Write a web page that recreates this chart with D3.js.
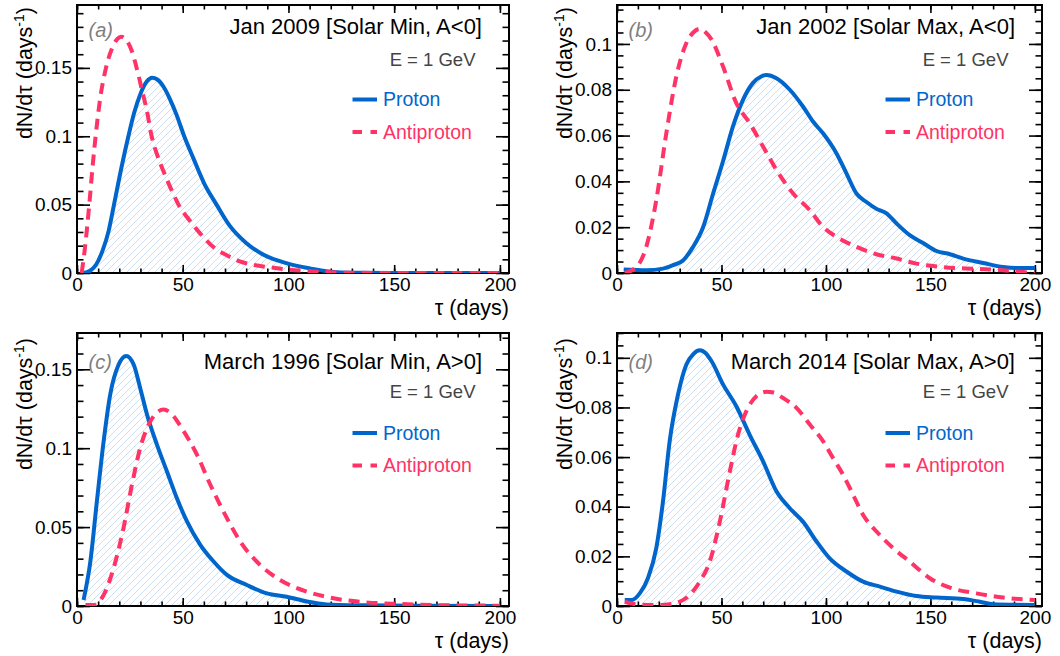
<!DOCTYPE html>
<html><head><meta charset="utf-8">
<script src="https://cdn.jsdelivr.net/npm/d3@7"></script>
<style>
body{margin:0;background:#fff}
svg{display:block}
text{font-family:"Liberation Sans",Arial,Helvetica,sans-serif}
</style>
</head><body>
<svg id="chart" width="1060" height="656"></svg>
<script>
// ---------- data ----------
const panelLabels = ["(a)", "(b)", "(c)", "(d)"];
const panelTitles = ["Jan 2009 [Solar Min, A<0]", "Jan 2002 [Solar Max, A<0]",
                     "March 1996 [Solar Min, A>0]", "March 2014 [Solar Max, A>0]"];
const energyLabel = "E = 1 GeV";
const seriesNames = ["Proton", "Antiproton"];
const xTitle = "τ (days)";
const xTicks = [0, 50, 100, 150, 200];
const yTicksA = [0, 0.05, 0.1, 0.15];
const yTicksB = [0, 0.02, 0.04, 0.06, 0.08, 0.1];
const yTicksC = [0, 0.05, 0.1, 0.15];
const yTicksD = [0, 0.02, 0.04, 0.06, 0.08, 0.1];
const yMaxes = [0.196, 0.117, 0.173, 0.110];
const xMaxes = [204.3, 203.4, 204.3, 203.4];

const protonA = [[3,0],[6,0.0015],[9,0.006],[12,0.016],[15,0.031],[17.5,0.05],[21,0.077],[24.3,0.1],[27,0.117],[30,0.131],[33,0.140],[35.5,0.1428],[38,0.1415],[41,0.136],[44,0.127],[47,0.116],[50.7,0.1],[55,0.084],[60,0.066],[66,0.05],[72,0.035],[80,0.022],[88,0.0135],[99,0.0072],[110,0.0034],[120,0.001],[130,0.0002],[150,0],[200,0]];
const antiprotonA = [[2.2,0],[3.5,0.015],[5.8,0.05],[7.5,0.08],[8.8,0.1],[11,0.128],[13.7,0.15],[16.5,0.164],[19,0.171],[21,0.1728],[23.5,0.17],[26,0.162],[28.2,0.15],[31,0.132],[33,0.119],[35.3,0.1],[38,0.086],[41,0.074],[45.5,0.058],[48.7,0.048],[52,0.041],[58.2,0.029],[64.5,0.019],[70.8,0.013],[77,0.0085],[83.4,0.0059],[92,0.004],[99,0.0027],[113,0.001],[129,0.0002],[150,0],[200,0]];

const protonB = [[3.2,0.0015],[14,0.0012],[22,0.0019],[26.8,0.0034],[31.6,0.0055],[36.4,0.0114],[41.2,0.020],[46,0.0347],[50.8,0.049],[55.5,0.064],[60.3,0.0756],[65.1,0.083],[69,0.0858],[71.5,0.0864],[76.3,0.085],[82.7,0.080],[89,0.0727],[93.9,0.066],[98.6,0.061],[105,0.0523],[109.8,0.0435],[114.6,0.0347],[119.4,0.031],[124.2,0.028],[129,0.026],[133.8,0.0216],[140.1,0.0165],[146.5,0.0131],[152.9,0.0096],[159.3,0.0082],[165.7,0.0063],[175.3,0.0044],[184.8,0.0026],[191.2,0.0022],[200,0.0022]];
const antiprotonB = [[3.7,0],[9.3,0.0026],[14,0.0114],[18.8,0.0318],[23.6,0.061],[28.4,0.0858],[33.2,0.1004],[36.5,0.105],[39.6,0.1066],[42.5,0.105],[45.2,0.102],[50.8,0.090],[57.1,0.0742],[63.5,0.0654],[69.9,0.0552],[76.3,0.045],[84.3,0.0347],[92.3,0.0274],[98.6,0.0201],[105,0.0158],[114.6,0.0114],[124.2,0.0082],[133.8,0.0063],[143.3,0.0041],[156,0.0026],[172,0.0018],[184.8,0.0012],[194.4,0.0004],[200,0]];

const protonC = [[3.1,0.0038],[6.3,0.028],[9.4,0.0663],[12.6,0.1044],[15.7,0.134],[19.7,0.153],[23.3,0.1585],[26.8,0.153],[29.9,0.138],[33.1,0.1214],[37.8,0.1023],[42.5,0.0854],[47.2,0.0684],[52,0.0536],[58.3,0.0388],[64.6,0.0282],[70.9,0.0197],[80.3,0.0133],[89.8,0.008],[99.2,0.0059],[108.7,0.0028],[118,0.001],[137,0.0004],[160,0.0001],[200,0]];
const antiprotonC = [[4,0.0006],[7.9,0.0006],[12.6,0.007],[17.3,0.024],[22,0.0494],[26,0.077],[29.9,0.1002],[33.9,0.115],[37,0.1215],[41,0.1245],[44.1,0.1225],[50.4,0.1108],[56.7,0.096],[63,0.077],[70.9,0.0557],[77.2,0.0409],[86.6,0.026],[96,0.0165],[108.7,0.0091],[121.3,0.0049],[137,0.0023],[152.8,0.0013],[168.5,0.0006],[200,0.0002]];

const protonD = [[3.7,0.0024],[6.9,0.0024],[10.9,0.0051],[14.8,0.0112],[18.8,0.0233],[22,0.0421],[25.2,0.0664],[29.2,0.0852],[33.2,0.0973],[36.5,0.1015],[39.6,0.103],[42,0.1022],[45.2,0.0987],[50.8,0.0892],[57.1,0.0805],[63.5,0.069],[69.9,0.0583],[76.3,0.0462],[82.7,0.0394],[89,0.034],[95.5,0.026],[101.8,0.0192],[109.8,0.0139],[117.8,0.0098],[125.8,0.0078],[133.8,0.0058],[143.3,0.004],[152.9,0.0034],[165.7,0.0028],[173.7,0.0017],[180,0.0007],[200,0.0004]];
const antiprotonD = [[3.7,0.0017],[9.3,0.0007],[18.8,0.0004],[25.2,0.0007],[30,0.0017],[34.8,0.0044],[39.6,0.0098],[44.4,0.0179],[49.2,0.034],[54,0.0542],[57.9,0.069],[61.9,0.0785],[66.7,0.0845],[71.5,0.0863],[75,0.086],[79.5,0.0838],[85.9,0.0798],[92.3,0.0731],[98.6,0.0664],[103.4,0.0596],[108.2,0.0529],[113,0.0448],[117.8,0.0367],[124.2,0.030],[132.2,0.0233],[140.1,0.0179],[149.7,0.0112],[159.3,0.0074],[172,0.0051],[184.8,0.0034],[200,0.0024]];

// ---------- layout & style ----------
const frames = [
  {x0:77,  x1:509,  y0:5,   y1:273, row:0},
  {x0:617, x1:1042, y0:5,   y1:273, row:0},
  {x0:77,  x1:509,  y0:333, y1:606, row:1},
  {x0:617, x1:1042, y0:333, y1:606, row:1}
];
const rowTop = [0, 328];
const BLUE = "#0066cc", PINK = "#ff3366", HATCH = "#c8dbf3";

const panels = [
  {p: protonA, a: antiprotonA, yt: yTicksA, minor: 0.01},
  {p: protonB, a: antiprotonB, yt: yTicksB, minor: 0.005},
  {p: protonC, a: antiprotonC, yt: yTicksC, minor: 0.01},
  {p: protonD, a: antiprotonD, yt: yTicksD, minor: 0.005}
];

const svg = d3.select("#chart");
const defs = svg.append("defs");
const pat = defs.append("pattern").attr("id","hatch").attr("patternUnits","userSpaceOnUse")
  .attr("width",7).attr("height",7);
pat.append("path").attr("d","M-1,1 L1,-1 M0,7 L7,0 M6,8 L8,6")
  .attr("stroke",HATCH).attr("stroke-width",0.9).attr("fill","none");

panels.forEach((P, i) => {
  const f = frames[i];
  const rt = rowTop[f.row];
  const x = d3.scaleLinear().domain([0, xMaxes[i]]).range([f.x0, f.x1]);
  const y = d3.scaleLinear().domain([0, yMaxes[i]]).range([f.y1, f.y0]);
  const g = svg.append("g");

  defs.append("clipPath").attr("id","clip"+i).append("rect")
    .attr("x",f.x0).attr("y",f.y0).attr("width",f.x1-f.x0).attr("height",f.y1-f.y0);

  const plot = g.append("g").attr("clip-path","url(#clip"+i+")");
  const area = d3.area().x(d=>x(d[0])).y0(y(0)).y1(d=>y(d[1])).curve(d3.curveMonotoneX);
  const line = d3.line().x(d=>x(d[0])).y(d=>y(d[1])).curve(d3.curveMonotoneX);

  plot.append("path").datum(P.p).attr("d",area).attr("fill","url(#hatch)");

  // minor ticks
  const yMinor = d3.range(0, yMaxes[i] + 1e-9, P.minor);
  const xMinor = d3.range(0, 201, 10);
  const clean = s => s.call(gg => gg.select(".domain").remove());
  g.append("g").attr("transform",`translate(${f.x0},0)`)
    .call(d3.axisLeft(y).tickValues(yMinor).tickSize(-6.5).tickFormat("")).call(clean);
  g.append("g").attr("transform",`translate(${f.x1},0)`)
    .call(d3.axisRight(y).tickValues(yMinor).tickSize(-6.5).tickFormat("")).call(clean);
  g.append("g").attr("transform",`translate(0,${f.y1})`)
    .call(d3.axisBottom(x).tickValues(xMinor).tickSize(-4.5).tickFormat("")).call(clean);
  g.append("g").attr("transform",`translate(0,${f.y0})`)
    .call(d3.axisTop(x).tickValues(xMinor).tickSize(-4.5).tickFormat("")).call(clean);
  // major ticks
  g.append("g").attr("transform",`translate(${f.x0},0)`)
    .call(d3.axisLeft(y).tickValues(P.yt).tickSize(-13).tickPadding(5).tickFormat(d=>String(d))).call(clean);
  g.append("g").attr("transform",`translate(${f.x1},0)`)
    .call(d3.axisRight(y).tickValues(P.yt).tickSize(-13).tickFormat("")).call(clean);
  g.append("g").attr("transform",`translate(0,${f.y1})`)
    .call(d3.axisBottom(x).tickValues(xTicks).tickSize(-8).tickPadding(5).tickFormat(d=>String(d))).call(clean);
  g.append("g").attr("transform",`translate(0,${f.y0})`)
    .call(d3.axisTop(x).tickValues(xTicks).tickSize(-8).tickFormat("")).call(clean);
  g.selectAll(".tick line").attr("stroke","#000").attr("stroke-width",1.6);
  g.selectAll(".tick text").attr("fill","#000").style("font-size","19px")
    .style("font-family",'"Liberation Sans",Arial,sans-serif');

  // frame
  g.append("rect").attr("x",f.x0).attr("y",f.y0).attr("width",f.x1-f.x0).attr("height",f.y1-f.y0)
    .attr("fill","none").attr("stroke","#000").attr("stroke-width",2);

  // curves
  const curves = g.append("g").attr("clip-path","url(#clip"+i+")");
  curves.append("path").datum(P.p).attr("d",line).attr("fill","none")
    .attr("stroke",BLUE).attr("stroke-width",4).attr("stroke-linejoin","round");
  curves.append("path").datum(P.a).attr("d",line).attr("fill","none")
    .attr("stroke",PINK).attr("stroke-width",4).attr("stroke-dasharray","11,7");

  // texts
  const topOff = f.row === 0 ? 0 : 6.5;
  g.append("text").attr("x",f.x0+11.5).attr("y",rt+36.7+(f.row?4.5:0))
    .attr("fill","#7f7f7f").style("font-size","20px").style("font-style","italic")
    .text(panelLabels[i]);
  g.append("text").attr("x",f.x1-27).attr("y",rt+34+topOff).attr("text-anchor","end")
    .attr("fill","#000").style("font-size","22px").text(panelTitles[i]);
  g.append("text").attr("x",f.x1-33.5).attr("y",rt+66+(f.row?4:0)).attr("text-anchor","end")
    .attr("fill","#444").style("font-size","18.5px").text(energyLabel);

  const lx0 = f.x1 - 156.5, lx1 = f.x1 - 132;
  const ly1 = rt + 99.5 + (f.row?5.5:0), ly2 = rt + 132 + (f.row?5.5:0);
  g.append("line").attr("x1",lx0).attr("x2",lx1).attr("y1",ly1).attr("y2",ly1)
    .attr("stroke",BLUE).attr("stroke-width",4);
  g.append("line").attr("x1",lx0).attr("x2",lx1).attr("y1",ly2).attr("y2",ly2)
    .attr("stroke",PINK).attr("stroke-width",4).attr("stroke-dasharray","9.5,8.5");
  g.append("text").attr("x",lx1+6).attr("y",ly1+6.8).attr("fill",BLUE)
    .style("font-size","19.5px").text(seriesNames[0]);
  g.append("text").attr("x",lx1+6).attr("y",ly2+6.8).attr("fill",PINK)
    .style("font-size","19.5px").text(seriesNames[1]);

  // axis titles
  g.append("text").attr("x",f.x1).attr("y",f.y1+42).attr("text-anchor","end")
    .attr("fill","#000").style("font-size","21.5px").text(xTitle);
  const yt = g.append("text").attr("transform",`translate(${f.x0-45},${f.y0+2+(f.row?3:0)}) rotate(-90)`)
    .attr("text-anchor","end").attr("fill","#000").style("font-size","21.5px");
  yt.append("tspan").text("dN/dτ (days");
  yt.append("tspan").attr("dy",-8).style("font-size","14px").text("-1");
  yt.append("tspan").attr("dy",8).text(")");
});
</script>
</body></html>
